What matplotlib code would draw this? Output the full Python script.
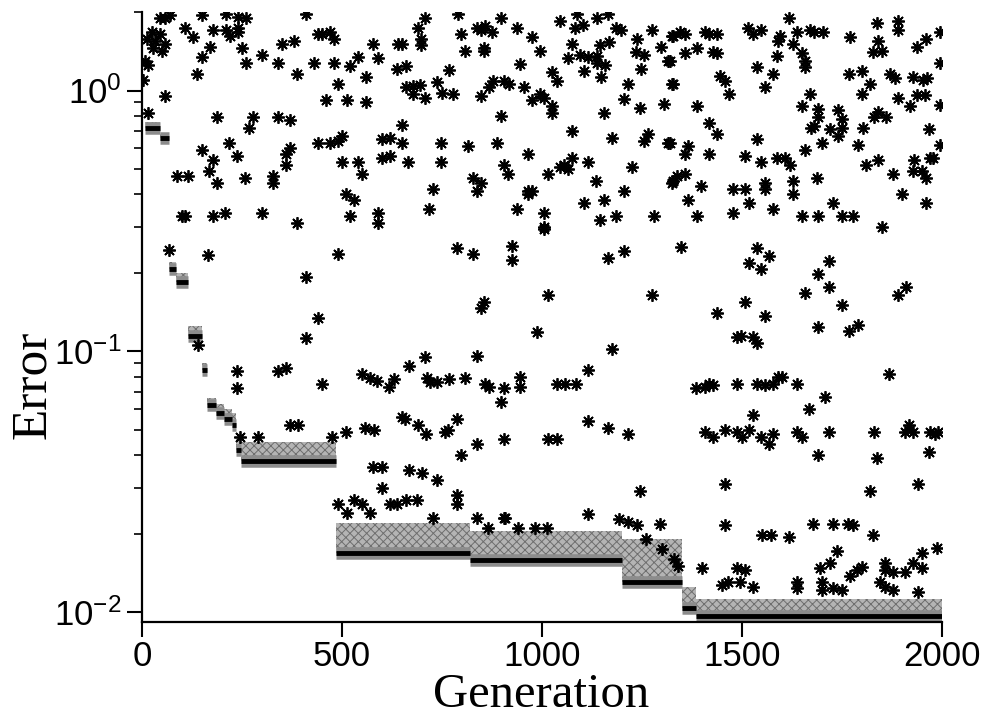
import matplotlib.pyplot as plt
from matplotlib.ticker import FixedLocator, LogLocator, NullFormatter

plt.rcParams['font.family'] = 'Liberation Sans'
plt.rcParams['mathtext.fontset'] = 'custom'
plt.rcParams['mathtext.rm'] = 'Liberation Sans'
plt.rcParams['hatch.linewidth'] = 0.7

# best error of the population, piecewise constant per generation
best_gen = [8, 45, 68, 85, 115, 150, 162, 185, 205, 225, 235, 248, 485, 820, 1200, 1350, 1385, 2000]
best_err = [0.72, 0.66, 0.207, 0.185, 0.114, 0.085, 0.062, 0.058, 0.055, 0.052, 0.042, 0.038,
            0.0168, 0.0158, 0.0130, 0.0104, 0.0097, 0.0097]
# upper edge of the dense crowd of individuals sitting just above the best
crowd_top = [0.76, 0.68, 0.22, 0.20, 0.125, 0.09, 0.066, 0.063, 0.06, 0.058, 0.046, 0.045,
             0.022, 0.0205, 0.019, 0.0125, 0.0112, 0.0112]

# scattered individuals, generations 0-700
early_gen = [45, 58, 70, 108, 150, 210, 240, 260, 178, 210, 220, 240, 240, 128, 25, 45, 12, 32, 58, 28,
             50, 170, 250, 150, 8, 15, 2, 138, 260, 300, 340, 388, 350, 380, 410, 440, 450, 470, 480, 430,
             480, 520, 540, 590, 490, 560, 460, 512, 560, 578, 640, 650, 638, 660, 660, 58, 15, 188, 278, 268,
             340, 370, 150, 218, 178, 168, 238, 88, 115, 188, 258, 328, 328, 370, 360, 360, 440, 470, 490, 500,
             500, 540, 550, 600, 620, 650, 650, 600, 620, 665, 510, 530, 100, 108, 178, 208, 300, 388, 520, 590,
             590, 68, 165, 490, 410, 440, 410, 140, 238, 238, 340, 360, 450, 550, 570, 588, 618, 630, 668, 650,
             558, 580, 370, 390, 245, 290, 475, 510, 578, 600, 668, 700, 600, 490, 530, 550, 512, 570, 620, 638,
             660, 688]
early_err = [1.89, 1.89, 1.94, 1.74, 1.94, 1.97, 1.92, 1.89, 1.70, 1.71, 1.62, 1.73, 1.67, 1.60, 1.67, 1.65,
             1.58, 1.55, 1.51, 1.46, 1.42, 1.47, 1.45, 1.34, 1.30, 1.25, 1.10, 1.16, 1.28, 1.37, 1.27, 1.16,
             1.51, 1.55, 1.96, 1.65, 1.64, 1.67, 1.57, 1.28, 1.27, 1.24, 1.34, 1.33, 1.06, 1.13, 0.92, 0.92,
             0.90, 1.51, 1.51, 1.51, 1.21, 1.24, 1.03, 0.95, 0.82, 0.79, 0.79, 0.72, 0.79, 0.77, 0.59, 0.63,
             0.54, 0.49, 0.56, 0.47, 0.47, 0.44, 0.46, 0.47, 0.44, 0.60, 0.57, 0.52, 0.63, 0.63, 0.64, 0.67,
             0.53, 0.53, 0.48, 0.65, 0.66, 0.63, 0.74, 0.55, 0.56, 0.53, 0.40, 0.38, 0.33, 0.33, 0.33, 0.34,
             0.34, 0.31, 0.33, 0.34, 0.31, 0.244, 0.235, 0.237, 0.192, 0.134, 0.112, 0.106, 0.084, 0.072,
             0.084, 0.086, 0.075, 0.082, 0.079, 0.077, 0.073, 0.078, 0.088, 0.056, 0.051, 0.050, 0.052, 0.052,
             0.047, 0.047, 0.047, 0.049, 0.036, 0.036, 0.035, 0.034, 0.030, 0.026, 0.027, 0.026, 0.024, 0.024,
             0.026, 0.026, 0.027, 0.027]

# scattered individuals, generations 700-1350
mid_gen = [708, 790, 898, 690, 698, 698, 798, 838, 858, 848, 875, 855, 855, 808, 938, 975, 995, 1045, 1088,
           1082, 1102, 1138, 1165, 1185, 1198, 1275, 1325, 1075, 1145, 1168, 1095, 1115, 1138, 1138, 1158,
           1065, 1105, 1148, 1238, 1235, 1255, 1298, 1248, 1315, 768, 945, 1025, 1038, 738, 678, 695, 678,
           708, 750, 778, 848, 868, 878, 905, 918, 955, 975, 995, 1005, 1025, 1025, 898, 1155, 1215, 1205,
           1245, 1305, 1325, 1075, 748, 815, 888, 965, 748, 905, 915, 1015, 1045, 1055, 1065, 1075, 1115,
           1175, 1255, 1265, 1315, 1225, 1325, 828, 848, 838, 728, 965, 975, 965, 1135, 1155, 1205, 1105,
           718, 938, 1005, 1005, 1145, 1185, 1280, 1005, 788, 828, 925, 925, 1165, 1205, 855, 848, 1015,
           1275, 988, 1175, 838, 708, 712, 720, 738, 768, 808, 858, 868, 905, 945, 945, 898, 1038, 1058,
           1085, 1115, 658, 690, 710, 788, 758, 765, 798, 838, 905, 1015, 1038, 1115, 1165, 1215, 738, 788,
           788, 728, 838, 865, 908, 940, 982, 1012, 1245, 905, 1115, 1192, 1215, 1238, 1295, 1260, 1300,
           1330, 1340]
mid_err = [1.90, 1.96, 1.89, 1.73, 1.58, 1.49, 1.65, 1.74, 1.76, 1.70, 1.68, 1.46, 1.42, 1.42, 1.73, 1.60,
           1.42, 1.84, 1.97, 1.74, 1.79, 1.89, 1.96, 1.74, 1.70, 1.71, 1.62, 1.51, 1.49, 1.54, 1.37, 1.34,
           1.36, 1.27, 1.25, 1.33, 1.19, 1.13, 1.57, 1.40, 1.37, 1.47, 1.21, 1.30, 1.20, 1.26, 1.18, 1.09,
           1.08, 1.04, 1.05, 0.97, 0.94, 0.98, 0.97, 0.95, 1.03, 1.09, 1.09, 1.06, 1.03, 0.92, 0.97, 0.94,
           0.87, 0.82, 0.80, 0.82, 1.06, 0.93, 0.86, 0.89, 1.06, 0.70, 0.63, 0.61, 0.63, 0.57, 0.53, 0.52,
           0.48, 0.48, 0.51, 0.52, 0.50, 0.55, 0.53, 0.66, 0.64, 0.68, 0.63, 0.51, 0.44, 0.46, 0.44, 0.41,
           0.42, 0.41, 0.41, 0.40, 0.45, 0.38, 0.41, 0.37, 0.35, 0.35, 0.34, 0.30, 0.32, 0.33, 0.33, 0.294,
           0.248, 0.237, 0.253, 0.223, 0.227, 0.242, 0.155, 0.146, 0.164, 0.165, 0.119, 0.102, 0.096, 0.095,
           0.079, 0.076, 0.076, 0.078, 0.079, 0.075, 0.073, 0.072, 0.080, 0.073, 0.064, 0.075, 0.075, 0.075,
           0.085, 0.055, 0.052, 0.048, 0.055, 0.049, 0.050, 0.040, 0.044, 0.046, 0.046, 0.046, 0.054, 0.051,
           0.048, 0.032, 0.028, 0.026, 0.023, 0.023, 0.021, 0.023, 0.021, 0.021, 0.021, 0.029, 0.0229,
           0.0238, 0.0227, 0.0221, 0.0216, 0.0218, 0.0190, 0.0175, 0.0160, 0.0150]

# scattered individuals, generations 1320-2000
late_gen = [1618, 1838, 1890, 1890, 1995, 1328, 1345, 1358, 1408, 1418, 1438, 1515, 1528, 1548, 1595, 1590,
            1628, 1638, 1670, 1680, 1702, 1770, 1840, 1828, 1850, 1938, 1960, 1358, 1388, 1428, 1438, 1320,
            1588, 1650, 1658, 1658, 1538, 1578, 1445, 1458, 1468, 1558, 1328, 1768, 1800, 1820, 1870, 1882,
            1928, 1952, 1962, 1995, 1800, 1890, 1938, 1958, 1920, 1995, 1388, 1670, 1650, 1690, 1690, 1672,
            1680, 1740, 1750, 1720, 1740, 1750, 1802, 1830, 1840, 1860, 1968, 1418, 1438, 1538, 1320, 1365,
            1358, 1418, 1508, 1548, 1588, 1608, 1620, 1658, 1700, 1790, 1810, 1840, 1930, 1970, 1978, 1995,
            1328, 1338, 1358, 1398, 1365, 1478, 1508, 1558, 1558, 1628, 1628, 1688, 1878, 1928, 1950, 1960,
            1900, 1960, 1518, 1388, 1478, 1578, 1650, 1690, 1728, 1750, 1778, 1850, 1348, 1538, 1568, 1518,
            1548, 1718, 1690, 1718, 1658, 1750, 1910, 1890, 1508, 1438, 1558, 1690, 1768, 1790, 1488, 1498,
            1528, 1538, 1868, 1385, 1408, 1418, 1428, 1488, 1538, 1558, 1578, 1590, 1600, 1638, 1708, 1668,
            1528, 1408, 1428, 1458, 1488, 1500, 1518, 1548, 1568, 1578, 1638, 1650, 1718, 1830, 1908, 1918,
            1928, 1970, 1982, 1990, 1690, 1838, 1968, 1458, 1820, 1940, 1458, 1550, 1572, 1618, 1678, 1728,
            1765, 1778, 1828, 1738, 1950, 1988, 1400, 1488, 1508, 1450, 1465, 1495, 1528, 1638, 1638, 1700,
            1695, 1720, 1700, 1728, 1750, 1770, 1788, 1800, 1858, 1858, 1878, 1908, 1928, 1950, 1845, 1858,
            1878, 1940]
late_err = [1.90, 1.82, 1.84, 1.70, 1.68, 1.62, 1.68, 1.65, 1.68, 1.65, 1.65, 1.73, 1.65, 1.70, 1.62, 1.55,
            1.51, 1.68, 1.70, 1.67, 1.67, 1.61, 1.55, 1.40, 1.42, 1.47, 1.58, 1.39, 1.45, 1.40, 1.39, 1.30,
            1.36, 1.39, 1.30, 1.23, 1.23, 1.16, 1.14, 1.09, 0.97, 1.03, 1.06, 1.16, 1.19, 1.06, 1.16, 1.12,
            1.13, 1.10, 1.12, 1.27, 0.97, 0.94, 0.96, 0.96, 0.87, 0.88, 0.87, 0.97, 0.87, 0.85, 0.79, 0.72,
            0.73, 0.84, 0.78, 0.71, 0.67, 0.72, 0.72, 0.79, 0.83, 0.79, 0.71, 0.75, 0.68, 0.65, 0.63, 0.61,
            0.57, 0.57, 0.56, 0.53, 0.55, 0.55, 0.52, 0.59, 0.63, 0.62, 0.52, 0.54, 0.54, 0.55, 0.55, 0.62,
            0.45, 0.47, 0.48, 0.43, 0.38, 0.42, 0.42, 0.44, 0.42, 0.45, 0.40, 0.46, 0.48, 0.49, 0.49, 0.46,
            0.40, 0.37, 0.37, 0.33, 0.34, 0.35, 0.33, 0.33, 0.37, 0.33, 0.33, 0.30, 0.252, 0.248, 0.231, 0.219,
            0.207, 0.221, 0.197, 0.176, 0.168, 0.151, 0.176, 0.164, 0.155, 0.140, 0.136, 0.124, 0.120, 0.126,
            0.113, 0.114, 0.113, 0.108, 0.082, 0.072, 0.073, 0.075, 0.074, 0.075, 0.075, 0.074, 0.075, 0.080,
            0.080, 0.075, 0.067, 0.060, 0.057, 0.049, 0.047, 0.050, 0.049, 0.047, 0.050, 0.047, 0.044, 0.048,
            0.049, 0.047, 0.049, 0.049, 0.049, 0.052, 0.049, 0.049, 0.048, 0.049, 0.040, 0.039, 0.041, 0.031,
            0.029, 0.031, 0.0215, 0.0197, 0.0198, 0.0194, 0.0217, 0.0218, 0.0218, 0.0215, 0.0198, 0.0171,
            0.0169, 0.0176, 0.0147, 0.0148, 0.0145, 0.0127, 0.0130, 0.0130, 0.0125, 0.0130, 0.0124, 0.0130,
            0.0148, 0.0154, 0.0121, 0.0124, 0.0121, 0.0137, 0.0145, 0.0149, 0.0154, 0.0145, 0.0143, 0.0143,
            0.0154, 0.0148, 0.0130, 0.0125, 0.0121, 0.0119]

xticks = [0, 500, 1000, 1500, 2000]

fig = plt.figure(figsize=(9.82, 7.18), dpi=100)
ax = fig.add_axes([142 / 982, 96 / 718, 800 / 982, 610 / 718])

# crowd of near-best individuals, then the best-so-far rows on top
ax.fill_between(best_gen, best_err, crowd_top, step='post', facecolor='#b4b4b4', edgecolor='#6e6e6e',
                linewidth=0, hatch='xxxx', zorder=1)
ax.hlines(best_err[:-1], best_gen[:-1], best_gen[1:], color='#8c8c8c', lw=9, zorder=2)
ax.hlines(best_err[:-1], best_gen[:-1], best_gen[1:], color='k', lw=3.5, zorder=3)

star = (8, 2, 0)
for g, e in [(early_gen, early_err), (mid_gen, mid_err), (late_gen, late_err)]:
    ax.plot(g, e, linestyle='none', marker=star, ms=9, mew=1.3, color='k', zorder=4)

ax.set_yscale('log')
ax.set_xlim(0, 2000)
ax.set_ylim(0.00916, 2.0)

ax.xaxis.set_major_locator(FixedLocator(xticks))
ax.yaxis.set_major_locator(LogLocator(base=10))
ax.yaxis.set_minor_locator(LogLocator(base=10, subs=range(2, 10)))
ax.yaxis.set_minor_formatter(NullFormatter())

for side in ['top', 'right']:
    ax.spines[side].set_visible(False)
for side in ['left', 'bottom']:
    ax.spines[side].set_linewidth(1.6)

ax.tick_params(axis='both', which='major', direction='out', length=11, width=1.5, labelsize=25, pad=4)
ax.tick_params(axis='x', which='major', pad=2)
ax.tick_params(axis='y', which='minor', direction='out', length=6, width=1.2)

ax.set_xlabel('Generation', family='Liberation Serif', fontsize=35)
ax.set_ylabel('Error', family='Liberation Serif', fontsize=37)
ax.xaxis.label.set_verticalalignment('bottom')
ax.yaxis.label.set_verticalalignment('center')
ax.xaxis.set_label_coords(0.499, -0.1555)
ax.yaxis.set_label_coords(-0.137, 0.389)

fig.savefig('out.png', dpi=100)
